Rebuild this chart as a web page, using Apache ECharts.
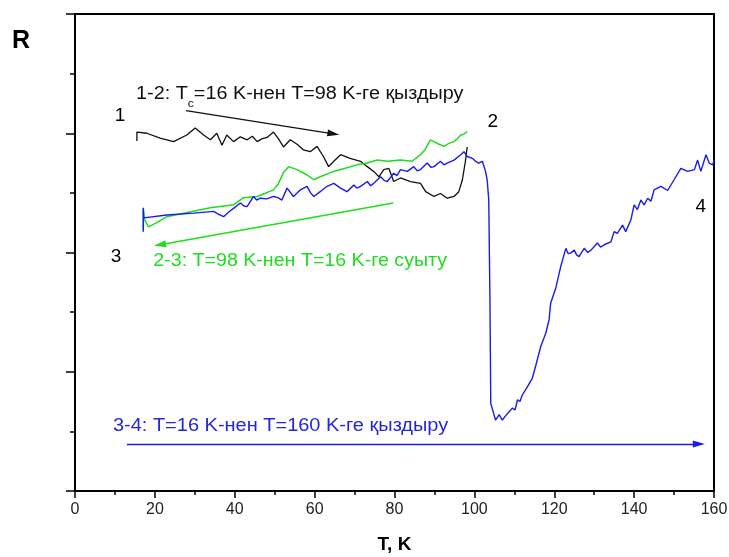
<!DOCTYPE html>
<html>
<head>
<meta charset="utf-8">
<script src="https://cdn.jsdelivr.net/npm/echarts@6/dist/echarts.min.js"></script>
<style>
  html, body { margin: 0; padding: 0; background: #fff; }
  #chart { width: 729px; height: 557px; }
</style>
</head>
<body>
<div id="chart"></div>
<script>
// Axis ticks
const xTicks = [0, 20, 40, 60, 80, 100, 120, 140, 160];
const yRange = [0, 8];

// 1-2: heating from 16 K to 98 K  (T, R)
const heat12 = [
  [15.5, 5.87], [15.5, 6.02], [15.6, 6.00], [18.0, 6.00], [21.3, 5.92], [24.7, 5.86],
  [28.0, 5.97], [30.1, 6.09], [32.2, 5.97], [33.9, 5.89], [35.5, 6.00], [36.8, 5.80],
  [38.0, 5.97], [39.7, 5.86], [41.4, 5.94], [43.1, 5.89], [44.4, 5.95], [45.6, 5.86],
  [46.9, 5.91], [48.1, 5.93], [49.7, 6.02], [51.0, 5.90], [52.2, 5.77], [53.9, 5.89],
  [55.7, 5.81], [57.2, 5.72], [58.9, 5.69], [60.6, 5.78], [62.2, 5.61], [63.5, 5.44],
  [64.8, 5.53], [66.5, 5.64], [68.9, 5.58], [71.5, 5.53], [73.2, 5.44], [74.8, 5.36],
  [76.1, 5.27], [77.3, 5.39], [78.6, 5.41], [79.8, 5.19], [81.5, 5.25], [84.0, 5.19],
  [86.5, 5.16], [87.8, 5.02], [89.9, 4.94], [91.5, 4.99], [93.2, 4.91], [94.9, 4.94],
  [96.1, 5.02], [97.0, 5.22], [97.8, 5.55], [98.2, 5.77]
];

// 2-3: cooling from 98 K to 16 K
const cool23 = [
  [98.2, 6.03], [97.5, 5.99], [96.6, 5.97], [95.6, 5.90], [94.9, 5.86], [93.6, 5.83],
  [92.4, 5.78], [91.0, 5.82], [89.9, 5.86], [89.0, 5.89], [87.6, 5.72], [86.5, 5.64],
  [84.4, 5.53], [81.5, 5.55], [78.2, 5.53], [75.7, 5.55], [73.2, 5.50], [70.6, 5.47],
  [68.1, 5.42], [64.8, 5.36], [61.4, 5.27], [59.8, 5.22], [58.1, 5.30], [55.6, 5.39],
  [53.5, 5.44], [52.2, 5.34], [50.9, 5.15], [49.7, 5.05], [47.5, 4.99], [45.6, 4.94],
  [42.2, 4.92], [39.7, 4.80], [33.9, 4.75], [27.2, 4.66], [23.0, 4.60], [20.5, 4.50],
  [18.4, 4.43], [17.4, 4.55], [17.1, 4.73], [17.1, 4.38]
];

// 3-4: heating from 16 K to 160 K
const heat34 = [
  [17.1, 4.35], [17.1, 4.75], [17.2, 4.58], [23.0, 4.63], [29.7, 4.66], [34.7, 4.69],
  [36.0, 4.64], [37.2, 4.60], [38.5, 4.68], [39.7, 4.74], [41.4, 4.83], [42.3, 4.78],
  [43.1, 4.77], [44.7, 4.94], [45.5, 4.88], [46.4, 4.91], [48.0, 4.90], [49.7, 4.94],
  [50.8, 4.92], [51.8, 4.88], [53.1, 5.08], [54.7, 4.94], [56.4, 5.05], [58.1, 5.11],
  [59.0, 5.00], [59.8, 4.94], [61.4, 5.02], [63.1, 5.11], [64.8, 5.16], [66.5, 5.08],
  [68.1, 5.02], [69.8, 5.13], [70.6, 5.08], [71.5, 5.11], [73.2, 5.19], [74.0, 5.12],
  [74.8, 5.16], [76.5, 5.27], [77.4, 5.21], [78.2, 5.19], [79.8, 5.33], [80.6, 5.29],
  [81.5, 5.39], [83.2, 5.36], [84.8, 5.44], [85.7, 5.37], [86.5, 5.39], [88.2, 5.50],
  [89.1, 5.43], [89.9, 5.44], [91.5, 5.53], [92.4, 5.47], [93.2, 5.50], [94.9, 5.55],
  [96.6, 5.64], [97.4, 5.69], [98.2, 5.61], [99.5, 5.58], [100.3, 5.53], [101.1, 5.50],
  [102.0, 5.53], [102.8, 5.36], [103.2, 5.22], [103.6, 4.88], [103.9, 3.20], [104.1, 1.47],
  [104.5, 1.44], [105.3, 1.19], [106.2, 1.28], [107.0, 1.19], [107.8, 1.26], [108.7, 1.33],
  [109.5, 1.39], [110.2, 1.36], [110.8, 1.53], [111.4, 1.50], [112.0, 1.61], [113.3, 1.75],
  [114.5, 1.89], [115.4, 2.11], [116.6, 2.42], [117.9, 2.65], [118.7, 2.87], [119.1, 3.15],
  [120.4, 3.41], [121.6, 3.76], [122.9, 4.07], [123.5, 3.98], [124.1, 3.99], [125.0, 4.04],
  [125.6, 3.96], [126.2, 3.93], [127.5, 4.07], [128.4, 4.00], [129.2, 4.04], [130.8, 4.16],
  [131.6, 4.09], [132.5, 4.13], [134.2, 4.18], [135.0, 4.35], [135.8, 4.32], [137.1, 4.46],
  [137.9, 4.35], [139.2, 4.55], [140.0, 4.80], [140.8, 4.72], [141.7, 4.88], [142.5, 4.80],
  [143.4, 4.91], [144.2, 4.86], [145.0, 5.05], [146.7, 5.11], [148.4, 5.04], [150.0, 5.22],
  [151.7, 5.41], [153.4, 5.36], [155.1, 5.39], [155.9, 5.55], [156.7, 5.36], [158.0, 5.64],
  [158.8, 5.50], [159.7, 5.47], [160.0, 5.55]
];

// Direction arrows (start, end) in data units
const arrow12 = [[27.8, 6.38], [64.7, 5.99]];
const arrow23 = [[79.7, 4.83], [21.3, 4.13]];
const arrow34 = [[13.0, 0.79], [156.2, 0.79]];

const BLACK = '#111111';
const GREEN = '#1fdc1f';
const BLUE = '#1a1aee';
const FONT = '"Liberation Sans", Arial, sans-serif';

const chart = echarts.init(document.getElementById('chart'), null, { renderer: 'canvas' });

function arrowLine(pts, color) {
  return {
    silent: true,
    animation: false,
    symbol: ['none', 'triangle'],
    symbolSize: [7, 12],
    label: { show: false },
    lineStyle: { color: color, width: 1.4, type: 'solid' },
    emphasis: { disabled: true },
    data: [[{ coord: pts[0] }, { coord: pts[1] }]]
  };
}

const option = {
  animation: false,
  backgroundColor: '#ffffff',
  grid: {
    left: 75, right: 15, top: 14, bottom: 66,
    outerBoundsMode: 'none', containLabel: false,
    show: true, borderColor: '#000', borderWidth: 2, backgroundColor: 'transparent'
  },
  xAxis: {
    type: 'value',
    min: xTicks[0], max: xTicks[xTicks.length - 1], interval: 20,
    name: 'T, K', nameLocation: 'middle', nameGap: 44,
    nameTextStyle: { fontFamily: FONT, fontSize: 19, fontWeight: 'bold', color: '#000' },
    axisLine: { show: true, onZero: false, lineStyle: { color: '#000', width: 2 } },
    axisTick: { show: true, inside: false, length: 7, lineStyle: { color: '#000', width: 1.5 } },
    minorTick: { show: true, splitNumber: 2, length: 4, lineStyle: { color: '#000', width: 1.5 } },
    axisLabel: { fontFamily: FONT, fontSize: 16, color: '#222', margin: 11 },
    splitLine: { show: false }
  },
  yAxis: {
    type: 'value',
    min: yRange[0], max: yRange[1], interval: 2,
    axisLine: { show: true, onZero: false, lineStyle: { color: '#000', width: 2 } },
    axisTick: { show: true, inside: false, length: 9, lineStyle: { color: '#000', width: 1.5 } },
    minorTick: { show: true, splitNumber: 2, length: 5, lineStyle: { color: '#000', width: 1.5 } },
    axisLabel: { show: false },
    splitLine: { show: false }
  },
  series: [
    {
      type: 'line', data: heat12, showSymbol: false, symbol: 'none',
      lineStyle: { color: BLACK, width: 1.3 }, itemStyle: { color: BLACK },
      markLine: arrowLine(arrow12, BLACK), z: 2
    },
    {
      type: 'line', data: cool23, showSymbol: false, symbol: 'none',
      lineStyle: { color: GREEN, width: 1.5 }, itemStyle: { color: GREEN },
      markLine: arrowLine(arrow23, GREEN), z: 3
    },
    {
      type: 'line', data: heat34, showSymbol: false, symbol: 'none',
      lineStyle: { color: BLUE, width: 1.4 }, itemStyle: { color: BLUE },
      markLine: arrowLine(arrow34, BLUE), z: 4
    }
  ]
};

chart.setOption(option);

// Text annotations anchored in data units
const px = (p) => chart.convertToPixel({ gridIndex: 0 }, p);

function label(p, text, style, align, sx) {
  const q = px(p);
  return {
    type: 'text', x: q[0], y: q[1], scaleX: sx || 1, silent: true, z: 10,
    style: Object.assign({
      text: text, fontFamily: FONT, fill: '#000',
      align: align || 'left', verticalAlign: 'middle'
    }, style)
  };
}

const graphics = [
  { type: 'text', left: 12, top: 29, silent: true,
    style: { text: 'R', fontFamily: FONT, fontSize: 25, fontWeight: 'bold', fill: '#000' } },
  label([11.3, 6.30], '1', { fontSize: 19 }, 'center'),
  label([104.6, 6.19], '2', { fontSize: 19 }, 'center'),
  label([10.3, 3.93], '3', { fontSize: 19 }, 'center'),
  label([156.7, 4.77], '4', { fontSize: 19 }, 'center'),
  label([15.3, 6.66], '{m|1-2: T}{s|c}{m|=16 K-нен T=98 K-ге қыздыру}', {
    rich: {
      m: { fontFamily: FONT, fontSize: 18, fill: '#111', lineHeight: 20, verticalAlign: 'middle' },
      s: { fontFamily: FONT, fontSize: 11, fill: '#111', lineHeight: 32, verticalAlign: 'bottom' }
    }
  }, 'left', 1.1),
  label([19.6, 3.86], '2-3: T=98 K-нен T=16 K-ге суыту', { fontSize: 18, fill: GREEN }, 'left', 1.09),
  label([9.5, 1.09], '3-4: T=16 K-нен T=160 K-ге қыздыру', { fontSize: 18, fill: '#2626dd' }, 'left', 1.11)
];

chart.setOption({ graphic: graphics });
</script>
</body>
</html>
